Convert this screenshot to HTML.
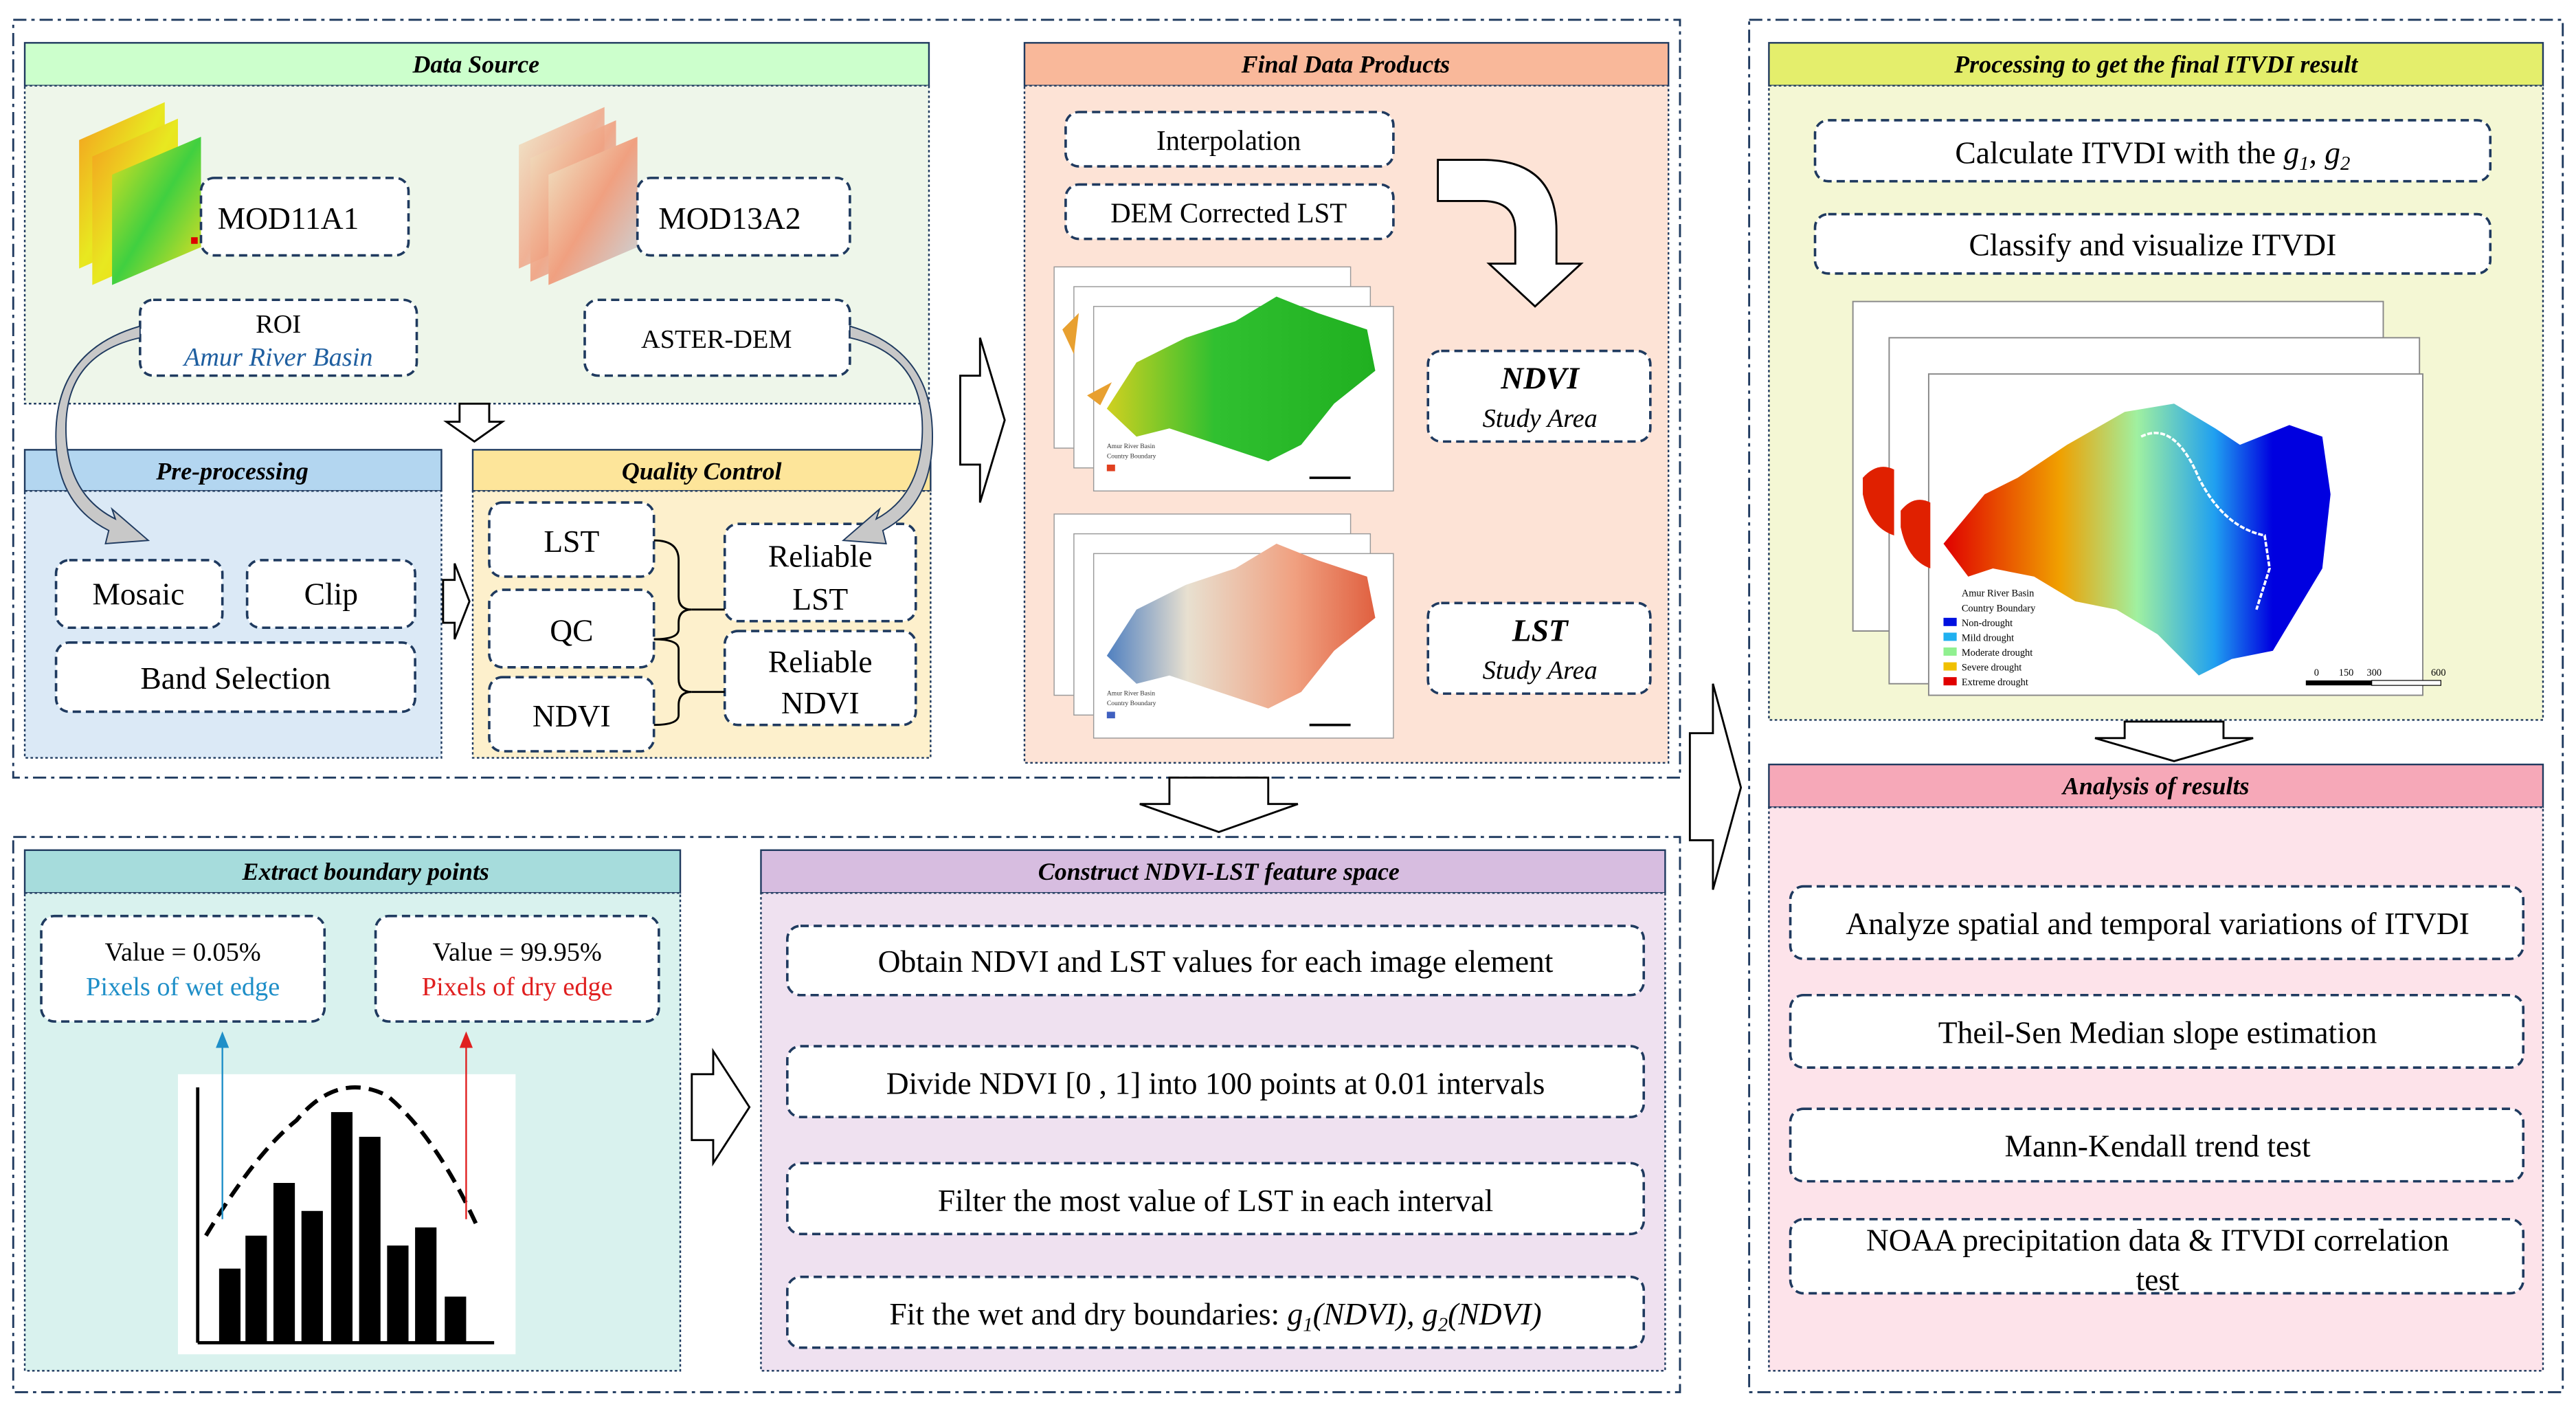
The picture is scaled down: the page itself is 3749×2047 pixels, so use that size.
<!DOCTYPE html>
<html><head><meta charset="utf-8"><style>
html,body{margin:0;padding:0;background:#fff;}
svg{display:block;font-family:"Liberation Serif","Times New Roman",serif;}
svg text{font-family:"Liberation Serif","Times New Roman",serif;}
</style></head><body>
<svg width="3749" height="2047" viewBox="0 0 1564 854" xmlns="http://www.w3.org/2000/svg" font-family="Liberation Serif, serif">
<defs>
<linearGradient id="g1" x1="0" y1="0" x2="1" y2="1"><stop offset="0" stop-color="#f59a20"/><stop offset="0.5" stop-color="#e8e820"/><stop offset="1" stop-color="#f0d010"/></linearGradient>
<linearGradient id="g2" x1="0" y1="0" x2="1" y2="1"><stop offset="0" stop-color="#e0e020"/><stop offset="0.5" stop-color="#40d040"/><stop offset="1" stop-color="#f0e020"/></linearGradient>
<linearGradient id="g3" x1="0" y1="0" x2="1" y2="1"><stop offset="0" stop-color="#f0e8c8"/><stop offset="0.5" stop-color="#f0a080"/><stop offset="1" stop-color="#c8d8e0"/></linearGradient>
<linearGradient id="gi" x1="0" y1="0" x2="1" y2="0"><stop offset="0" stop-color="#e00000"/><stop offset="0.3" stop-color="#f0a000"/><stop offset="0.5" stop-color="#a0f0a0"/><stop offset="0.7" stop-color="#20a0f0"/><stop offset="0.85" stop-color="#0000e0"/></linearGradient>
<linearGradient id="gn" x1="0" y1="0" x2="1" y2="0"><stop offset="0" stop-color="#d0d020"/><stop offset="0.4" stop-color="#30c030"/><stop offset="1" stop-color="#20b020"/></linearGradient>
<linearGradient id="gl" x1="0" y1="0" x2="1" y2="0"><stop offset="0" stop-color="#5080c0"/><stop offset="0.3" stop-color="#e8e0d0"/><stop offset="0.7" stop-color="#f0a080"/><stop offset="1" stop-color="#e06040"/></linearGradient>
</defs>
<g fill="none" stroke="#1f3a5f" stroke-width="1.2" stroke-dasharray="8,3,2,3">
<rect x="8" y="12" width="1012" height="460"/>
<rect x="8" y="508" width="1012" height="337"/>
<rect x="1062" y="12" width="494" height="833"/>
</g>
<g stroke="#1f3a5f" stroke-width="1">
<rect x="15" y="26" width="549" height="26" fill="#ccffcc"/>
<rect x="15" y="52" width="549" height="193" fill="#eef6ea" stroke-dasharray="1.5,1.5"/>
<rect x="15" y="273" width="253" height="25" fill="#b3d6f0"/>
<rect x="15" y="298" width="253" height="162" fill="#dbe9f6" stroke-dasharray="1.5,1.5"/>
<rect x="287" y="273" width="278" height="25" fill="#fde59a"/>
<rect x="287" y="298" width="278" height="162" fill="#fdf0cc" stroke-dasharray="1.5,1.5"/>
<rect x="622" y="26" width="391" height="26" fill="#f9b89a"/>
<rect x="622" y="52" width="391" height="411" fill="#fde3d6" stroke-dasharray="1.5,1.5"/>
<rect x="15" y="516" width="398" height="26" fill="#a6dcdc"/>
<rect x="15" y="542" width="398" height="290" fill="#d9f2ee" stroke-dasharray="1.5,1.5"/>
<rect x="462" y="516" width="549" height="26" fill="#d7bde0"/>
<rect x="462" y="542" width="549" height="290" fill="#efe1f0" stroke-dasharray="1.5,1.5"/>
<rect x="1074" y="26" width="470" height="26" fill="#e4ee6c"/>
<rect x="1074" y="52" width="470" height="385" fill="#f4f7d4" stroke-dasharray="1.5,1.5"/>
<rect x="1074" y="464" width="470" height="26" fill="#f6a8b8"/>
<rect x="1074" y="490" width="470" height="342" fill="#fde3ea" stroke-dasharray="1.5,1.5"/>
</g>
<g font-weight="bold" font-style="italic" font-size="15" text-anchor="middle" fill="#000">
<text x="289" y="44">Data Source</text>
<text x="141" y="291">Pre-processing</text>
<text x="426" y="291">Quality Control</text>
<text x="817" y="44">Final Data Products</text>
<text x="222" y="534">Extract boundary points</text>
<text x="740" y="534">Construct NDVI-LST feature space</text>
<text x="1309" y="44">Processing to get the final ITVDI result</text>
<text x="1309" y="482">Analysis of results</text>
</g>
<g>
<polygon points="48,85 100,62 100,140 48,163" fill="url(#g1)"/>
<polygon points="56,95 108,72 108,150 56,173" fill="url(#g1)"/>
<polygon points="68,106 122,83 122,150 68,173" fill="url(#g2)"/>
<rect x="116" y="144" width="4" height="4" fill="#d00"/>
<polygon points="315,88 367,65 367,140 315,163" fill="url(#g3)" opacity="0.8"/>
<polygon points="322,96 374,73 374,148 322,171" fill="url(#g3)" opacity="0.9"/>
<polygon points="333,106 387,83 387,150 333,173" fill="url(#g3)"/>
</g>
<g fill="#fff" stroke="#1f3a5f" stroke-width="1.5" stroke-dasharray="5,3">
<rect x="122" y="108" width="126" height="47" rx="8"/>
<rect x="387" y="108" width="129" height="47" rx="8"/>
<rect x="85" y="182" width="168" height="46" rx="8"/>
<rect x="355" y="182" width="161" height="46" rx="8"/>
<rect x="34" y="340" width="101" height="41" rx="8"/>
<rect x="150" y="340" width="102" height="41" rx="8"/>
<rect x="34" y="390" width="218" height="42" rx="8"/>
<rect x="297" y="305" width="100" height="45" rx="8"/>
<rect x="297" y="358" width="100" height="47" rx="8"/>
<rect x="297" y="411" width="100" height="45" rx="8"/>
<rect x="440" y="318" width="116" height="59" rx="8"/>
<rect x="440" y="383" width="116" height="57" rx="8"/>
<rect x="647" y="68" width="199" height="33" rx="8"/>
<rect x="647" y="112" width="199" height="33" rx="8"/>
<rect x="867" y="213" width="135" height="55" rx="8"/>
<rect x="867" y="366" width="135" height="55" rx="8"/>
<rect x="25" y="556" width="172" height="64" rx="8"/>
<rect x="228" y="556" width="172" height="64" rx="8"/>
<rect x="478" y="562" width="520" height="42" rx="8"/>
<rect x="478" y="635" width="520" height="43" rx="8"/>
<rect x="478" y="706" width="520" height="43" rx="8"/>
<rect x="478" y="775" width="520" height="43" rx="8"/>
<rect x="1102" y="73" width="410" height="37" rx="8"/>
<rect x="1102" y="130" width="410" height="36" rx="8"/>
<rect x="1087" y="538" width="445" height="44" rx="8"/>
<rect x="1087" y="604" width="445" height="44" rx="8"/>
<rect x="1087" y="673" width="445" height="44" rx="8"/>
<rect x="1087" y="740" width="445" height="45" rx="8"/>
</g>
<g font-size="19" text-anchor="middle" fill="#000">
<text x="175" y="139">MOD11A1</text>
<text x="443" y="139">MOD13A2</text>
<text x="169" y="202" font-size="16">ROI</text>
<text x="169" y="222" font-size="16" font-style="italic" fill="#1f5fa0">Amur River Basin</text>
<text x="435" y="211" font-size="16">ASTER-DEM</text>
<text x="84" y="367">Mosaic</text>
<text x="201" y="367">Clip</text>
<text x="143" y="418">Band Selection</text>
<text x="347" y="335">LST</text>
<text x="347" y="389">QC</text>
<text x="347" y="441">NDVI</text>
<text x="498" y="344">Reliable</text>
<text x="498" y="370">LST</text>
<text x="498" y="408">Reliable</text>
<text x="498" y="433">NDVI</text>
<text x="746" y="91" font-size="17">Interpolation</text>
<text x="746" y="135" font-size="17">DEM Corrected LST</text>
<text x="935" y="236" font-weight="bold" font-style="italic">NDVI</text>
<text x="935" y="259" font-size="16" font-style="italic">Study Area</text>
<text x="935" y="389" font-weight="bold" font-style="italic">LST</text>
<text x="935" y="412" font-size="16" font-style="italic">Study Area</text>
<text x="111" y="583" font-size="16">Value = 0.05%</text>
<text x="111" y="604" font-size="16" fill="#1f8fc8">Pixels of wet edge</text>
<text x="314" y="583" font-size="16">Value = 99.95%</text>
<text x="314" y="604" font-size="16" fill="#e02020">Pixels of dry edge</text>
<text x="738" y="590">Obtain NDVI and LST values for each image element</text>
<text x="738" y="664">Divide NDVI [0 , 1] into 100 points at 0.01 intervals</text>
<text x="738" y="735">Filter the most value of LST in each interval</text>
<text x="738" y="804">Fit the wet and dry boundaries: <tspan font-style="italic">g<tspan font-size="12" dy="4">1</tspan><tspan dy="-4">(NDVI), g</tspan><tspan font-size="12" dy="4">2</tspan><tspan dy="-4">(NDVI)</tspan></tspan></text>
<text x="1307" y="99">Calculate ITVDI with the <tspan font-style="italic">g<tspan font-size="12" dy="4">1</tspan><tspan dy="-4">, g</tspan><tspan font-size="12" dy="4">2</tspan></tspan></text>
<text x="1307" y="155">Classify and visualize ITVDI</text>
<text x="1310" y="567">Analyze spatial and temporal variations of ITVDI</text>
<text x="1310" y="633">Theil-Sen Median slope estimation</text>
<text x="1310" y="702">Mann-Kendall trend test</text>
<text x="1310" y="759">NOAA precipitation data &amp; ITVDI correlation</text>
<text x="1310" y="783">test</text>
</g>
<g fill="none" stroke="#000" stroke-width="1.2">
<path d="M397,328 Q412,328 412,340 L412,362 Q412,370 420,370 Q412,370 412,378 L412,382 Q412,388 397,388"/>
<path d="M397,388 Q412,388 412,394 L412,412 Q412,420 420,420 Q412,420 412,428 L412,434 Q412,440 397,440"/>
<line x1="420" y1="370" x2="440" y2="370"/><line x1="420" y1="420" x2="440" y2="420"/>
</g>
<g fill="#c8c8c8" stroke="#1f3a5f" stroke-width="0.8">
<path d="M85,205 Q40,215 40,260 Q40,300 70,315 L68,309 L90,328 L64,330 L66,322 Q32,305 34,260 Q36,212 85,198 Z"/>
<path d="M516,205 Q560,215 560,260 Q560,300 532,315 L534,309 L512,328 L538,330 L536,322 Q568,305 566,260 Q564,212 516,198 Z"/>
</g>
<g fill="#fff" stroke="#000" stroke-width="1.2">
<polygon points="279,245 297,245 297,256 305,256 288,268 271,256 279,256"/>
<polygon points="269,352 276,352 276,342 285,365 276,388 276,378 269,378"/>
<polygon points="583,228 595,228 595,205 610,255 595,305 595,282 583,282"/>
<polygon points="710,472 770,472 770,488 788,488 740,505 692,488 710,488"/>
<polygon points="420,652 433,652 433,638 455,672 433,706 433,692 420,692"/>
<polygon points="1026,445 1040,445 1040,415 1057,478 1040,540 1040,510 1026,510"/>
<polygon points="1290,438 1350,438 1350,448 1368,448 1320,462 1272,448 1290,448"/>
<path d="M873,97 L900,97 Q945,97 945,140 L945,160 L960,160 L932,186 L904,160 L920,160 L920,140 Q920,122 900,122 L873,122 Z"/>
</g>
<g stroke="#999" stroke-width="0.6">
<rect x="640" y="162" width="180" height="110" fill="#fff"/>
<rect x="652" y="174" width="180" height="110" fill="#fff"/>
<rect x="664" y="186" width="182" height="112" fill="#fff"/>
<rect x="640" y="312" width="180" height="110" fill="#fff"/>
<rect x="652" y="324" width="180" height="110" fill="#fff"/>
<rect x="664" y="336" width="182" height="112" fill="#fff"/>
</g>
<path d="M672,248 L690,220 L720,205 L750,195 L775,180 L800,190 L830,200 L835,225 L810,245 L790,270 L770,280 L740,270 L710,260 L690,265 Z" fill="url(#gn)"/>
<path d="M668,246 L675,232 L660,240 Z M645,200 L655,190 L652,215 Z" fill="#e8a030"/>
<path d="M672,398 L690,370 L720,355 L750,345 L775,330 L800,340 L830,350 L835,375 L810,395 L790,420 L770,430 L740,420 L710,410 L690,415 Z" fill="url(#gl)"/>
<g font-size="4" fill="#333"><text x="672" y="272">Amur River Basin</text><text x="672" y="278">Country Boundary</text><text x="672" y="422">Amur River Basin</text><text x="672" y="428">Country Boundary</text></g>
<rect x="672" y="282" width="5" height="4" fill="#e04020"/><rect x="672" y="432" width="5" height="4" fill="#4060c0"/>
<line x1="795" y1="290" x2="820" y2="290" stroke="#000" stroke-width="1.5"/><line x1="795" y1="440" x2="820" y2="440" stroke="#000" stroke-width="1.5"/>
<g stroke="#888" stroke-width="0.8">
<rect x="1125" y="183" width="322" height="200" fill="#fff"/>
<rect x="1147" y="205" width="322" height="210" fill="#fff"/>
<rect x="1171" y="227" width="300" height="195" fill="#fff"/>
</g>
<path d="M1131,290 Q1140,280 1150,285 L1150,325 Q1135,320 1131,300 Z" fill="#e02000"/>
<path d="M1154,310 Q1162,300 1172,305 L1172,345 Q1158,340 1154,320 Z" fill="#e02000"/>
<path d="M1180,330 L1205,300 L1225,290 L1255,270 L1290,250 L1320,245 L1345,260 L1360,270 L1390,258 L1410,265 L1415,300 L1410,345 L1380,395 L1355,400 L1335,410 L1310,385 L1285,370 L1260,365 L1235,350 L1210,345 L1195,350 Z" fill="url(#gi)"/>
<path d="M1300,265 Q1320,255 1335,290 Q1350,320 1375,325 L1378,345 L1370,370" fill="none" stroke="#fff" stroke-width="1.5" stroke-dasharray="3,1"/>
<g font-size="6" fill="#000">
<rect x="1180" y="375" width="8" height="5" fill="#0010e0"/><text x="1191" y="380">Non-drought</text>
<rect x="1180" y="384" width="8" height="5" fill="#20b0f0"/><text x="1191" y="389">Mild drought</text>
<rect x="1180" y="393" width="8" height="5" fill="#90f090"/><text x="1191" y="398">Moderate drought</text>
<rect x="1180" y="402" width="8" height="5" fill="#f0c000"/><text x="1191" y="407">Severe drought</text>
<rect x="1180" y="411" width="8" height="5" fill="#e00000"/><text x="1191" y="416">Extreme drought</text>
<text x="1191" y="362">Amur River Basin</text><text x="1191" y="371">Country Boundary</text>
<text x="1405" y="410">0</text><text x="1420" y="410">150</text><text x="1437" y="410">300</text><text x="1476" y="410">600</text>
</g>
<rect x="1400" y="413" width="40" height="3" fill="#000"/><rect x="1440" y="413" width="42" height="3" fill="#fff" stroke="#000" stroke-width="0.5"/>
<rect x="108" y="652" width="205" height="170" fill="#fff"/>
<g fill="#000">
<rect x="133" y="770" width="13" height="45"/><rect x="149" y="750" width="13" height="65"/>
<rect x="166" y="718" width="13" height="97"/><rect x="183" y="735" width="13" height="80"/>
<rect x="201" y="675" width="13" height="140"/><rect x="218" y="690" width="13" height="125"/>
<rect x="235" y="756" width="13" height="59"/><rect x="252" y="745" width="13" height="70"/>
<rect x="270" y="787" width="13" height="28"/>
</g>
<line x1="120" y1="660" x2="120" y2="815" stroke="#000" stroke-width="2"/>
<line x1="120" y1="815" x2="300" y2="815" stroke="#000" stroke-width="2"/>
<path d="M125,750 Q155,700 180,680 Q205,650 235,665 Q265,690 290,745" fill="none" stroke="#000" stroke-width="2.5" stroke-dasharray="9,5"/>
<line x1="135" y1="740" x2="135" y2="632" stroke="#1f8fc8" stroke-width="1"/>
<polygon points="131,636 135,626 139,636" fill="#1f8fc8"/>
<line x1="283" y1="740" x2="283" y2="632" stroke="#e02020" stroke-width="1"/>
<polygon points="279,636 283,626 287,636" fill="#e02020"/>
</svg>
</body></html>
